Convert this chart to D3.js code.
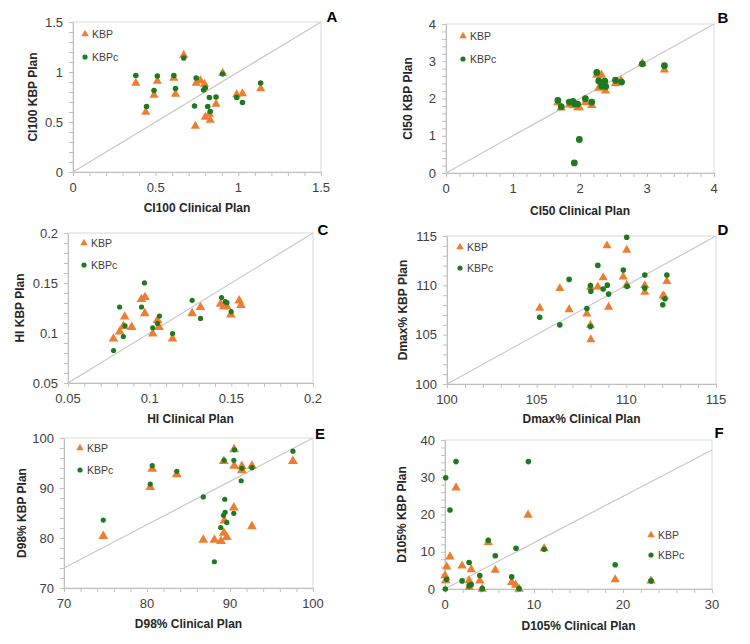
<!DOCTYPE html>
<html>
<head>
<meta charset="utf-8">
<script src="https://cdn.jsdelivr.net/npm/d3@7"></script>
<style>
body { margin: 0; background: #fff; }
text { font-family: "Liberation Sans", Arial, sans-serif; }
</style>
</head>
<body>
<div id="chart"></div>
<script>
var seriesNames = ["KBP", "KBPc"];

// A - CI100 [clinical, kbp]
var ci100KBP = [[0.38,0.89],[0.44,0.60],[0.49,0.77],[0.51,0.91],[0.61,0.94],[0.62,0.78],[0.67,1.17],[0.74,0.46],[0.745,0.89],[0.77,0.915],[0.795,0.88],[0.80,0.55],[0.825,0.58],[0.83,0.52],[0.865,0.68],[0.905,0.99],[0.99,0.775],[1.025,0.785],[1.135,0.835]];
var ci100KBPc = [[0.38,0.965],[0.445,0.655],[0.49,0.815],[0.51,0.96],[0.61,0.965],[0.62,0.835],[0.67,1.14],[0.735,0.66],[0.745,0.94],[0.79,0.82],[0.80,0.84],[0.815,0.655],[0.83,0.605],[0.825,0.745],[0.865,0.75],[0.905,0.98],[0.99,0.745],[1.025,0.695],[1.135,0.89]];

// B - CI50
var ci50KBP = [[1.67,1.89],[1.72,1.75],[1.845,1.83],[1.905,1.81],[1.97,1.76],[1.99,1.76],[2.08,1.90],[2.175,1.82],[2.25,2.63],[2.28,2.28],[2.32,2.63],[2.38,2.21],[2.53,2.40],[2.61,2.48],[2.93,2.94],[3.26,2.77]];
var ci50KBPc = [[1.67,1.95],[1.72,1.78],[1.84,1.905],[1.895,1.92],[1.92,1.86],[1.965,1.85],[2.08,1.995],[2.175,1.905],[2.25,2.70],[2.28,2.47],[2.37,2.465],[2.325,2.33],[2.385,2.32],[2.53,2.49],[2.62,2.44],[2.93,2.93],[3.26,2.88],[1.99,0.90],[1.915,0.27]];

// C - HI
var hiKBP = [[0.0778,0.0942],[0.0816,0.1012],[0.0839,0.1069],[0.0847,0.1163],[0.089,0.1059],[0.095,0.1337],[0.0972,0.1357],[0.097,0.1196],[0.1019,0.0992],[0.1048,0.1129],[0.1058,0.1059],[0.114,0.0942],[0.126,0.1196],[0.1311,0.1257],[0.1434,0.129],[0.1454,0.1263],[0.1471,0.1267],[0.1497,0.1183],[0.1548,0.1324],[0.1559,0.1277]];
var hiKBPc = [[0.0779,0.0825],[0.0816,0.126],[0.0839,0.0965],[0.0849,0.1072],[0.095,0.126],[0.0968,0.1501],[0.1019,0.1052],[0.1048,0.1096],[0.106,0.117],[0.114,0.0995],[0.126,0.1327],[0.1311,0.1146],[0.144,0.1354],[0.1463,0.1314],[0.1473,0.1303],[0.1499,0.1213]];

// D - Dmax%
var dmaxKBP = [[105.17,107.69],[106.29,109.69],[106.81,107.55],[107.8,107.11],[108.0,105.96],[108.02,104.5],[108.0,109.82],[108.41,109.85],[108.71,110.77],[108.92,114.02],[109.01,107.79],[109.83,110.87],[110.02,113.58],[110.02,110.02],[111.03,109.99],[111.03,109.31],[112.05,108.97],[112.13,108.84],[112.26,110.4]];
var dmaxKBPc = [[105.17,106.77],[106.29,105.99],[106.81,110.6],[107.8,107.65],[108.0,105.82],[108.0,109.99],[108.02,109.41],[108.41,112.02],[108.71,109.62],[108.94,110.02],[109.01,109.11],[109.83,111.55],[110.02,114.87],[110.04,109.89],[111.03,111.04],[111.03,109.72],[112.03,108.03],[112.15,108.64],[112.26,111.04]];

// E - D98%
var d98KBP = [[74.73,80.36],[80.39,90.17],[80.63,93.81],[83.59,92.73],[86.78,79.62],[88.12,79.62],[88.92,79.35],[89.25,81.03],[89.33,83.45],[89.61,80.15],[89.25,95.35],[90.5,97.71],[90.5,94.41],[90.46,86.07],[91.43,94.34],[91.43,93.54],[92.64,94.41],[92.64,82.31],[97.58,95.35]];
var d98KBPc = [[74.73,83.58],[80.39,90.78],[80.63,94.48],[83.59,93.34],[86.78,88.22],[88.12,75.25],[88.88,82.1],[89.21,84.53],[89.37,87.75],[89.41,85.13],[89.61,83.11],[89.29,95.55],[90.46,95.55],[90.54,97.64],[90.46,84.93],[91.35,91.45],[91.43,93.94],[92.64,94.07],[97.58,97.37]];

// F - D105%
var d105KBP = [[0,3.6],[0.08,2.26],[0.19,5.96],[0.56,8.67],[1.24,27.2],[1.92,6.23],[2.71,2.26],[2.71,0.45],[2.94,5.24],[3.91,2.17],[4.18,0],[4.86,12.55],[5.65,5.06],[7.49,1.81],[7.94,1.08],[8.32,0],[9.33,19.86],[11.14,10.83],[19.12,2.53],[23.15,2.17]];
var d105KBPc = [[0.04,0],[0.08,29.87],[0.19,2.62],[0.56,21.22],[1.24,34.2],[1.92,2.17],[2.71,7.13],[2.71,0.9],[2.94,1.17],[3.91,3.6],[4.18,0.09],[4.86,13.1],[5.65,8.94],[7.49,3.25],[7.98,10.92],[8.32,0.09],[9.37,34.2],[11.14,10.65],[19.12,6.5],[23.15,2.17]];

// tick labels
var ticksA = [0, 0.5, 1, 1.5];
var ticksB = [0, 1, 2, 3, 4];
var ticksC = [0.05, 0.1, 0.15, 0.2];
var ticksD = [100, 105, 110, 115];
var ticksE = [70, 80, 90, 100];
var ticksFx = [0, 10, 20, 30];
var ticksFy = [0, 10, 20, 30, 40];

// reference lines
var lineA = [[0,0],[1.5,1.5]];
var lineB = [[0,0],[4,4]];
var lineC = [[0.05,0.05],[0.2,0.2]];
var lineD = [[100,100],[115,115]];
var lineE = [[70,74],[100,100]];
var lineF = [[0,0],[30,37.3]];

var orange = "#ED7D31", green = "#1F7A1F";

var panels = [
  {id:"A", kbp:ci100KBP, kbpc:ci100KBPc, xd:[0,1.5], yd:[0,1.5], xt:ticksA, yt:ticksA, xm:0.1, ym:0.1, line:lineA,
   xTitle:"CI100 Clinical Plan", yTitle:"CI100 KBP Plan", box:[73,22,321,172], ytx:33, xty:212, letter:[332,22],
   leg:[85,34,57], tri:36, r:2.8},
  {id:"B", kbp:ci50KBP, kbpc:ci50KBPc, xd:[0,4], yd:[0,4], xt:ticksB, yt:ticksB, xm:0.2, ym:0.2, line:lineB,
   xTitle:"CI50 Clinical Plan", yTitle:"CI50 KBP Plan", box:[446,24,714,173], ytx:408, xty:215, letter:[723,23],
   leg:[463,36,59], tri:38, r:3.4},
  {id:"C", kbp:hiKBP, kbpc:hiKBPc, xd:[0.05,0.2], yd:[0.05,0.2], xt:ticksC, yt:ticksC, xm:0.01, ym:0.01, line:lineC,
   xTitle:"HI Clinical Plan", yTitle:"HI KBP Plan", box:[68,233,313,383], ytx:20, xty:423, letter:[323,235],
   leg:[84,243,265], tri:40, r:2.6},
  {id:"D", kbp:dmaxKBP, kbpc:dmaxKBPc, xd:[100,115], yd:[100,115], xt:ticksD, yt:ticksD, xm:1, ym:1, line:lineD,
   xTitle:"Dmax% Clinical Plan", yTitle:"Dmax% KBP Plan", box:[447,236,716,384], ytx:403, xty:423, letter:[723,235],
   leg:[460,247,268], tri:36, r:2.8},
  {id:"E", kbp:d98KBP, kbpc:d98KBPc, xd:[70,100], yd:[70,100], xt:ticksE, yt:ticksE, xm:2, ym:2, line:lineE,
   xTitle:"D98% Clinical Plan", yTitle:"D98% KBP Plan", box:[64,438,313,588], ytx:22, xty:628, letter:[320,439],
   leg:[80,448,470], tri:42, r:2.6},
  {id:"F", kbp:d105KBP, kbpc:d105KBPc, xd:[0,30], yd:[0,40], xt:ticksFx, yt:ticksFy, xm:2, ym:2, line:lineF,
   xTitle:"D105% Clinical Plan", yTitle:"D105% KBP Plan", box:[445,440,712,589], ytx:402, xty:630, letter:[719,438],
   leg:[651,535,555], tri:38, r:2.8}
];

var svg = d3.select("#chart")
  .append("svg")
    .attr("width", 750)
    .attr("height", 644);

svg.append("rect").attr("width", 750).attr("height", 644).attr("fill", "#fff");

panels.forEach(function(p) {
  var x0 = p.box[0], y0 = p.box[1], x1 = p.box[2], y1 = p.box[3];
  var x = d3.scaleLinear().domain(p.xd).range([x0, x1]);
  var y = d3.scaleLinear().domain(p.yd).range([y1, y0]);
  var g = svg.append("g");

  // plot border
  g.append("rect")
    .attr("x", x0).attr("y", y0)
    .attr("width", x1 - x0).attr("height", y1 - y0)
    .attr("fill", "none").attr("stroke", "#d9d9d9");

  // minor ticks
  var xMinor = d3.range(p.xd[0], p.xd[1] + p.xm / 2, p.xm);
  var yMinor = d3.range(p.yd[0], p.yd[1] + p.ym / 2, p.ym);
  var xa = g.append("g")
    .attr("transform", "translate(0," + y1 + ")")
    .call(d3.axisBottom(x).tickValues(xMinor).tickSize(4).tickSizeOuter(0).tickFormat(""));
  var ya = g.append("g")
    .attr("transform", "translate(" + x0 + ",0)")
    .call(d3.axisLeft(y).tickValues(yMinor).tickSize(4).tickSizeOuter(0).tickFormat(""));
  [xa, ya].forEach(function(a) {
    a.selectAll("line").attr("stroke", "#bfbfbf");
    a.select(".domain").attr("stroke", "#bfbfbf");
  });

  // tick labels
  g.selectAll(".xl").data(p.xt).enter().append("text")
    .attr("x", function(d) { return x(d); })
    .attr("y", y1 + 20)
    .attr("text-anchor", "middle")
    .attr("font-size", "13px")
    .attr("fill", "#404040")
    .text(function(d) { return String(d); });
  g.selectAll(".yl").data(p.yt).enter().append("text")
    .attr("x", x0 - 10)
    .attr("y", function(d) { return y(d); })
    .attr("dy", "0.35em")
    .attr("text-anchor", "end")
    .attr("font-size", "13px")
    .attr("fill", "#404040")
    .text(function(d) { return String(d); });

  // diagonal reference line
  g.append("line")
    .attr("x1", x(p.line[0][0])).attr("y1", y(p.line[0][1]))
    .attr("x2", x(p.line[1][0])).attr("y2", y(p.line[1][1]))
    .attr("stroke", "#c8c8c8").attr("stroke-width", 1.2);

  // points
  var tri = d3.symbol().type(d3.symbolTriangle).size(p.tri);
  g.selectAll(".kbp").data(p.kbp).enter().append("path")
    .attr("d", tri)
    .attr("transform", function(d) { return "translate(" + x(d[0]) + "," + y(d[1]) + ")"; })
    .attr("fill", orange);
  g.selectAll(".kbpc").data(p.kbpc).enter().append("circle")
    .attr("cx", function(d) { return x(d[0]); })
    .attr("cy", function(d) { return y(d[1]); })
    .attr("r", p.r)
    .attr("fill", green);

  // legend
  g.append("path")
    .attr("d", d3.symbol().type(d3.symbolTriangle).size(24))
    .attr("transform", "translate(" + p.leg[0] + "," + p.leg[1] + ")")
    .attr("fill", orange);
  g.append("circle")
    .attr("cx", p.leg[0]).attr("cy", p.leg[2]).attr("r", 2.6)
    .attr("fill", green);
  g.selectAll(".lg").data(seriesNames).enter().append("text")
    .attr("x", p.leg[0] + 7)
    .attr("y", function(d, i) { return p.leg[1 + i]; })
    .attr("dy", "0.35em")
    .attr("font-size", "10.5px")
    .attr("fill", "#404040")
    .text(function(d) { return d; });

  // axis titles
  g.append("text")
    .attr("x", (x0 + x1) / 2)
    .attr("y", p.xty)
    .attr("text-anchor", "middle")
    .attr("font-size", "12px")
    .attr("font-weight", "bold")
    .attr("fill", "#262626")
    .text(p.xTitle);
  g.append("text")
    .attr("transform", "translate(" + p.ytx + "," + ((y0 + y1) / 2) + ") rotate(-90)")
    .attr("dy", "0.35em")
    .attr("text-anchor", "middle")
    .attr("font-size", "12px")
    .attr("font-weight", "bold")
    .attr("fill", "#262626")
    .text(p.yTitle);

  // panel letter
  g.append("text")
    .attr("x", p.letter[0])
    .attr("y", p.letter[1])
    .attr("text-anchor", "middle")
    .attr("font-size", "15px")
    .attr("font-weight", "bold")
    .attr("fill", "#000")
    .text(p.id);
});
</script>
</body>
</html>
